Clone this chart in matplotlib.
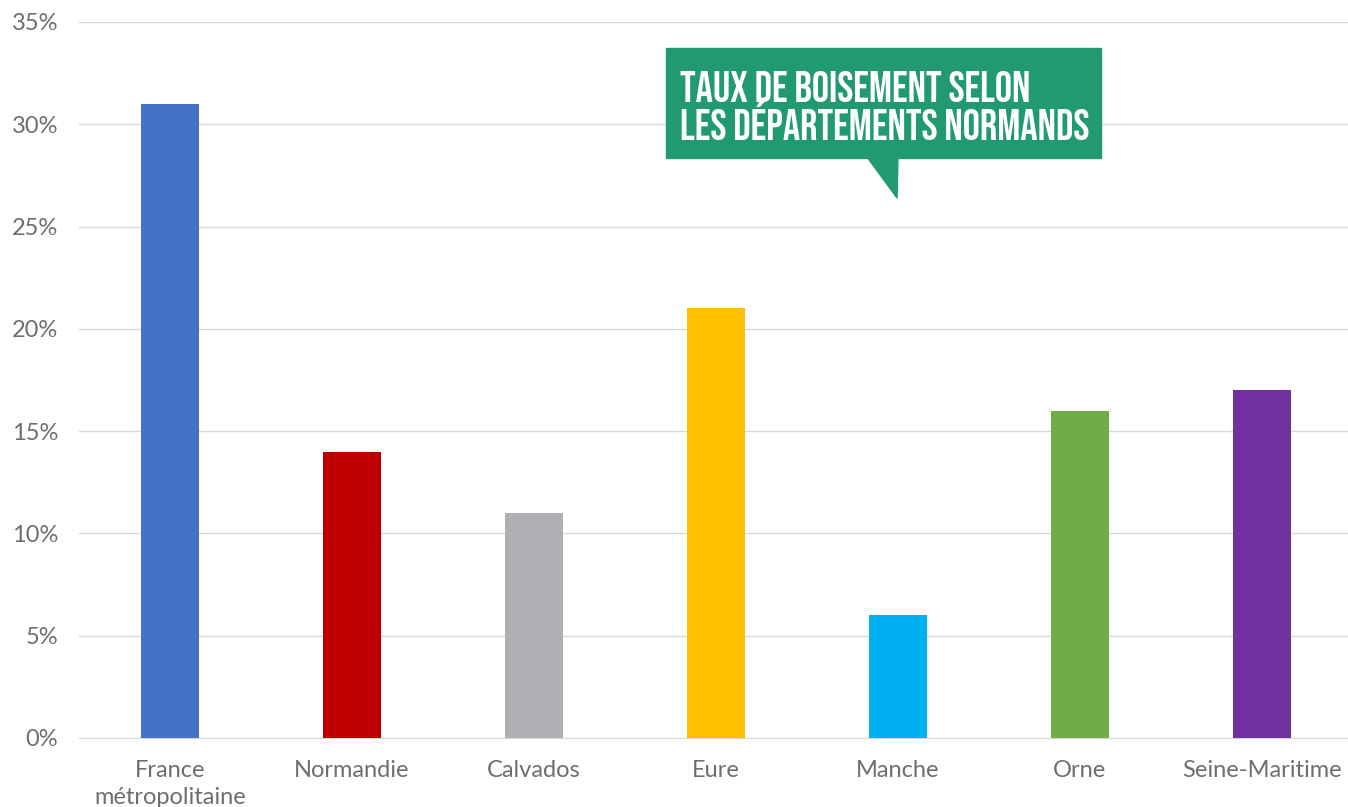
import matplotlib
matplotlib.use("Agg")
import matplotlib.pyplot as plt
from matplotlib import font_manager
from matplotlib.patches import Polygon, Rectangle
from matplotlib.ticker import FuncFormatter

categories = ["France\nmétropolitaine", "Normandie", "Calvados", "Eure",
              "Manche", "Orne", "Seine-Maritime"]
values = [31, 14, 11, 21, 6, 16, 17]
colors = ["#4472C4", "#C00000", "#AFB0B3", "#FFC000", "#00B0F0", "#70AD47", "#7030A0"]
yticks = [0, 5, 10, 15, 20, 25, 30, 35]
title = "TAUX DE BOISEMENT SELON\nLES DÉPARTEMENTS NORMANDS"

W, H = 1348, 807
fig = plt.figure(figsize=(W / 100, H / 100), dpi=100)
ax = fig.add_axes([79 / W, (H - 738) / H, (W - 79) / W, 716 / H])

x = range(len(categories))
ax.bar(x, values, width=0.32, color=colors, zorder=3)

ax.set_ylim(0, 35)
ax.set_xlim(-0.5, -0.5 + (W - 79) / 182)
ax.set_yticks(yticks)
ax.yaxis.set_major_formatter(FuncFormatter(lambda v, p: f"{v:.0f}%"))
ax.set_xticks(list(x))
ax.set_xticklabels(categories)
ax.grid(axis="y", color="#D9D9D9", linewidth=1, zorder=0)
for s in ["top", "right", "left"]:
    ax.spines[s].set_visible(False)
ax.spines["bottom"].set_color("#D9D9D9")
ax.tick_params(axis="both", length=0, labelsize=17, labelcolor="#6E6E6E")
ax.tick_params(axis="y", pad=15)
ax.tick_params(axis="x", pad=16)
for lbl in ax.get_xticklabels() + ax.get_yticklabels():
    lbl.set_family(["Lato", "DejaVu Sans"])
    lbl.set_linespacing(1.35)

# green speech-bubble title
green = "#219A73"
def px(xp, yp):
    return (xp / W, (H - yp) / H)
bx0, by0, bx1, by1 = 666, 48, 1101, 158
fig.patches.append(Rectangle(px(bx0, by1), (bx1 - bx0) / W, (by1 - by0) / H,
                             transform=fig.transFigure, color=green, zorder=5))
fig.patches.append(Polygon([px(867, 157), px(898, 157), px(897, 198)],
                           closed=True, transform=fig.transFigure,
                           color=green, zorder=5))

# condensed font if one is installed; size it to fill the box width
installed = {f.name for f in font_manager.fontManager.ttflist}
narrow = [n for n in ["Bebas Neue", "Oswald", "Roboto Condensed",
                      "Liberation Sans Narrow", "Open Sans Condensed"] if n in installed]
fam = narrow[:1] + ["DejaVu Sans"]
t = fig.text(680 / W, 1 - 105 / H, title, color="white", fontsize=30,
             fontweight="bold", family=fam, fontstretch="condensed",
             ha="left", va="center", linespacing=1.0, zorder=6)
fig.canvas.draw()
w = t.get_window_extent().width
t.set_fontsize(min(30 * 412 / w, 31))

fig.savefig("out.png", dpi=100)
